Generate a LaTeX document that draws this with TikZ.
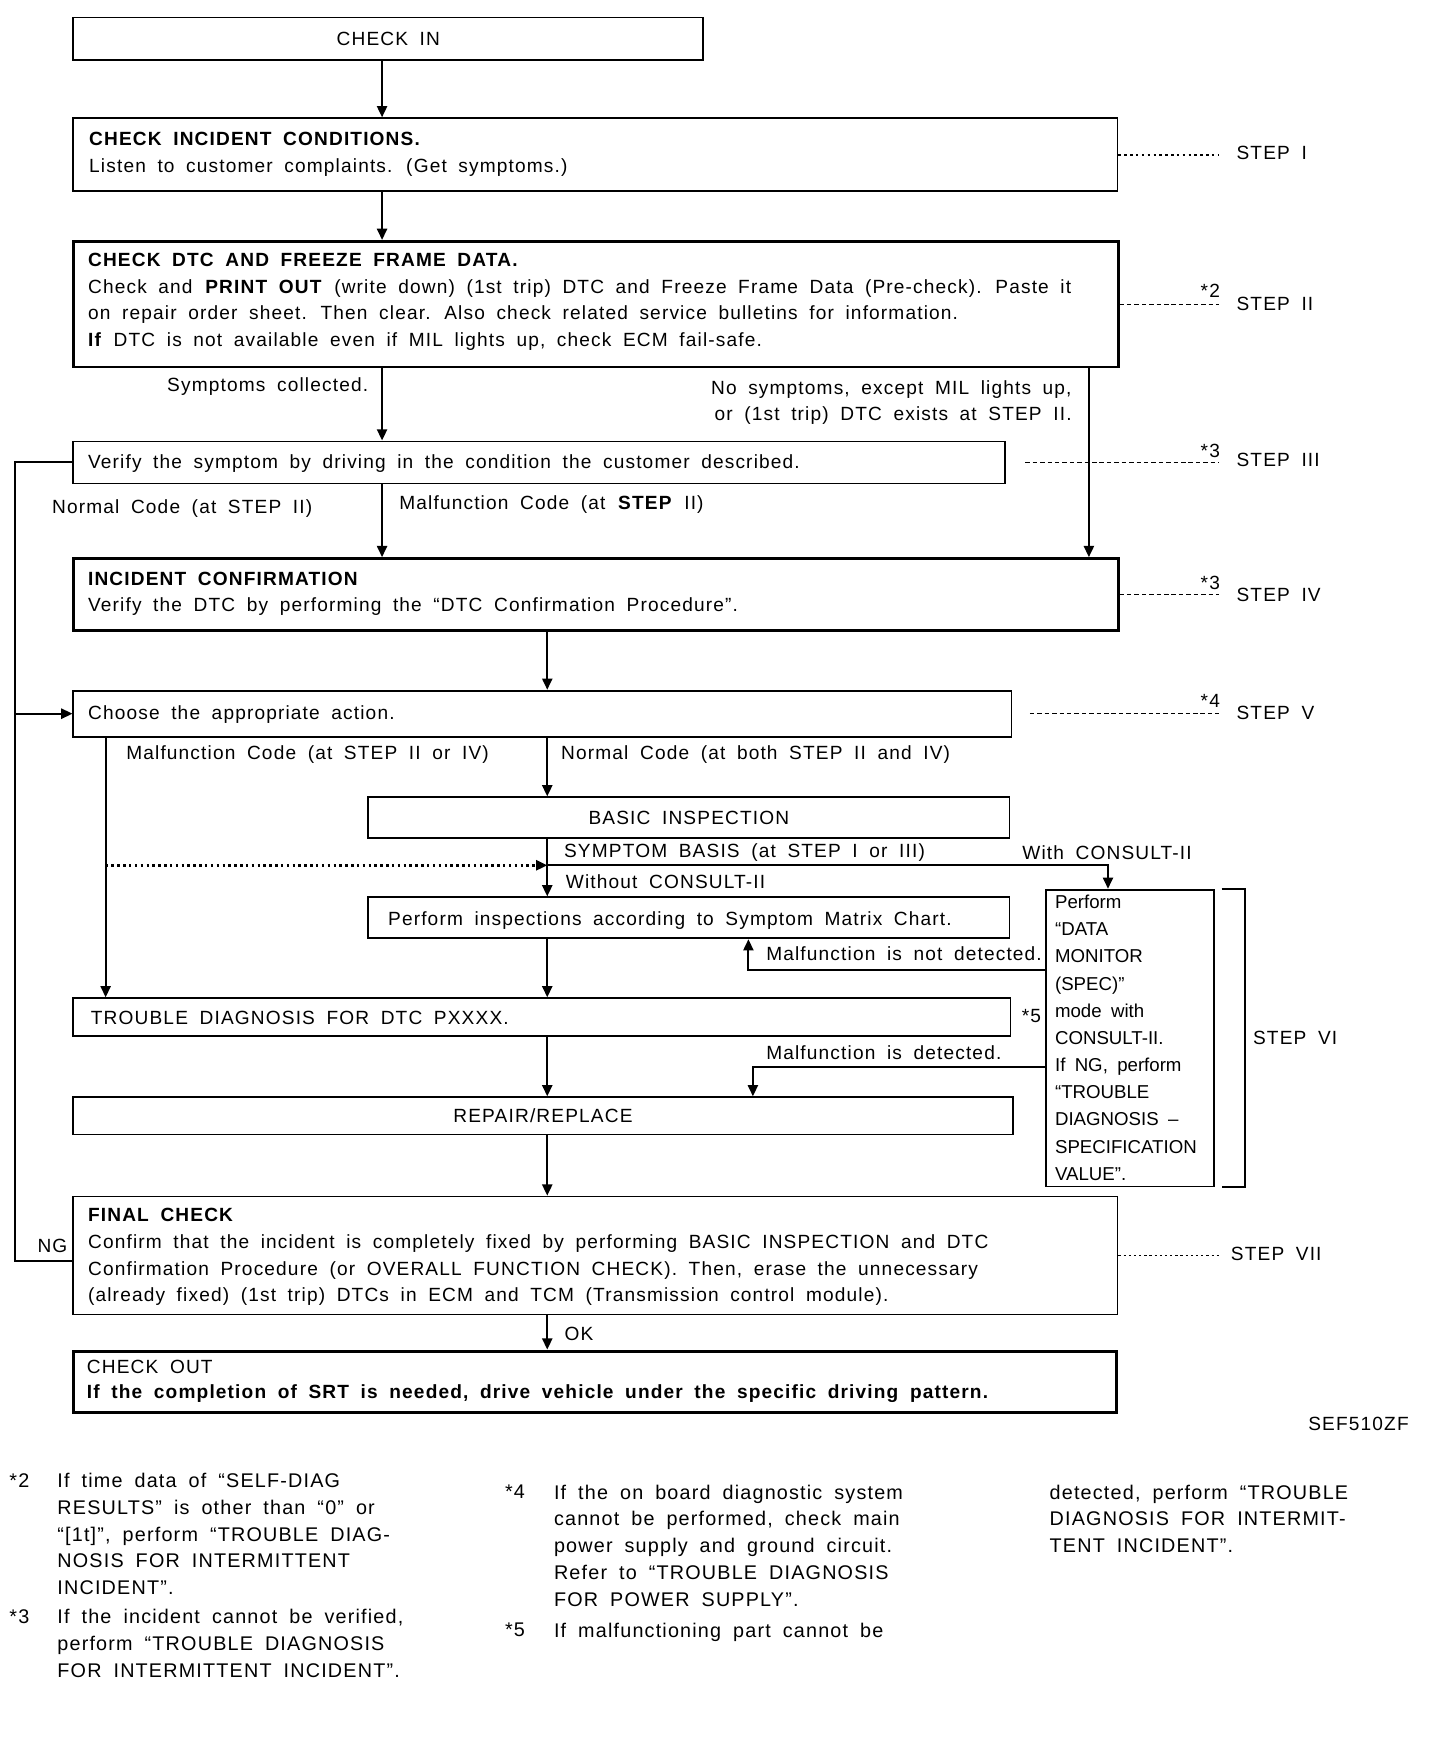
\documentclass[tikz,border=0pt]{standalone}
\usepackage{fontspec}
\setmainfont{Liberation Sans}[LetterSpace=6,WordSpace=1.8]
\newfontfamily\narrowfont{Liberation Sans}[WordSpace=1.8]
\usetikzlibrary{arrows.meta}
\begin{document}
\begin{tikzpicture}[x=0.5pt,y=-0.5pt,
  font=\fontsize{8.5pt}{12.3pt}\selectfont,
  box/.style={draw,line width=0.8pt,rectangle,inner sep=0pt,anchor=north west},
  thickbox/.style={box,line width=1.3pt},
  txt/.style={inner sep=0pt,anchor=north west,align=left},
  lbl/.style={inner sep=0pt},
  ln/.style={line width=0.9pt},
  arr/.style={ln,-{Triangle[length=5pt,width=4.5pt]}},
  dotline/.style={line width=1.1pt,dash pattern=on 1.1pt off 1.5pt},
  thindash/.style={line width=0.45pt,dash pattern=on 2pt off 1.3pt},
  meddash/.style={line width=0.7pt,dash pattern=on 2pt off 1.3pt},
  fn/.style={txt,font=\fontsize{8.8pt}{11.9pt}\selectfont},
]
\useasboundingbox (0,0) rectangle (1281,1568);
\fill[white] (0,0) rectangle (1281,1568);

% column coordinates
\coordinate (cA) at (340,0);
\coordinate (cB) at (487,0);
\coordinate (cC) at (969,0);
\coordinate (cL) at (13,0);
\coordinate (cM) at (94,0);
\coordinate (cD) at (986,0);
\coordinate (cE) at (666,0);
\coordinate (cF) at (670,0);
\coordinate (stepend) at (1085,0);

% boxes
\node[box,minimum width=280.25pt,minimum height=19pt] (checkin) at (64.5,14.8) {CHECK IN};
\node[box,minimum width=464.6pt,minimum height=32.3pt] (b1) at (64.5,104.4) {};
\node[thickbox,minimum width=464.6pt,minimum height=55.9pt] (b2) at (64.5,213.5) {};
\node[box,minimum width=414.5pt,minimum height=18.7pt] (b3) at (64.5,392) {};
\node[thickbox,minimum width=464.6pt,minimum height=31.9pt] (b4) at (64.5,495.8) {};
\node[box,minimum width=417.45pt,minimum height=20.5pt] (b5) at (64.5,613.8) {};
\node[box,minimum width=285.4pt,minimum height=18.05pt] (basic) at (326.8,708.7) {BASIC INSPECTION};
\node[box,minimum width=285.4pt,minimum height=18.25pt] (perf) at (326.8,797.7) {};
\node[box,minimum width=74.9pt,minimum height=132.05pt] (consult) at (929.7,790.9) {};
\node[box,minimum width=417pt,minimum height=16.95pt] (trouble) at (64.5,887.5) {};
\node[box,minimum width=417.9pt,minimum height=16.6pt] (repair) at (64.5,975.6) {REPAIR/REPLACE};
\node[box,minimum width=464.6pt,minimum height=52.5pt] (final) at (64.5,1064) {};
\node[thickbox,minimum width=464pt,minimum height=27.4pt] (checkout) at (64.5,1201) {};

% box texts
\node[txt] (t1) at (79,117) {\textbf{CHECK INCIDENT CONDITIONS.}\\Listen to customer complaints. (Get symptoms.)};
\node[txt,font=\fontsize{8.5pt}{11.75pt}\selectfont] (t2) at (78,225.3) {\textbf{CHECK DTC AND FREEZE FRAME DATA.}\\Check and \textbf{PRINT OUT} (write down) (1st trip) DTC and Freeze Frame Data (Pre-check). Paste it\\on repair order sheet. Then clear. Also check related service bulletins for information.\\\textbf{If} DTC is not available even if MIL lights up, check ECM fail-safe.};
\node[txt] (t3) at (78,404) {Verify the symptom by driving in the condition the customer described.};
\node[txt,font=\fontsize{8.5pt}{11.9pt}\selectfont] (t4) at (78,508.5) {\textbf{INCIDENT CONFIRMATION}\\Verify the DTC by performing the “DTC Confirmation Procedure”.};
\node[txt] (t5) at (78,627.8) {Choose the appropriate action.};
\node[txt] (t6) at (345,811) {Perform inspections according to Symptom Matrix Chart.};
\node[txt,font=\narrowfont\fontsize{8.3pt}{12.08pt}\selectfont] (t7) at (938.5,796.2) {Perform\\“DATA\\MONITOR\\(SPEC)”\\mode with\\CONSULT-II.\\If NG, perform\\“TROUBLE\\DIAGNOSIS –\\SPECIFICATION\\VALUE”.};
\node[txt] (t8) at (80.5,899) {TROUBLE DIAGNOSIS FOR DTC PXXXX.};
\node[txt,font=\fontsize{8.5pt}{11.85pt}\selectfont] (t9) at (78,1075) {\textbf{FINAL CHECK}\\Confirm that the incident is completely fixed by performing BASIC INSPECTION and DTC\\Confirmation Procedure (or OVERALL FUNCTION CHECK). Then, erase the unnecessary\\(already fixed) (1st trip) DTCs in ECM and TCM (Transmission control module).};
\node[txt,font=\fontsize{8.5pt}{11pt}\selectfont] (t10) at (77,1210) {CHECK OUT\\\textbf{If the completion of SRT is needed, drive vehicle under the specific driving pattern.}};

% connector labels
\node[lbl,anchor=base east] (l1) at (328,348.4) {Symptoms collected.};
\node[lbl,anchor=north east,align=right,font=\fontsize{8.5pt}{11.85pt}\selectfont] (l2) at (954,338) {No symptoms, except MIL lights up,\\or (1st trip) DTC exists at STEP II.};
\node[lbl,anchor=base west] (l3) at (46,456.6) {Normal Code (at STEP II)};
\node[lbl,anchor=base west] (l4) at (355,453) {Malfunction Code (at \textbf{STEP} II)};
\node[lbl,anchor=base west] (l5) at (112,676) {Malfunction Code (at STEP II or IV)};
\node[lbl,anchor=base west] (l6) at (499,676) {Normal Code (at both STEP II and IV)};
\node[lbl,anchor=base west] (l7) at (501.6,762.7) {SYMPTOM BASIS (at STEP I or III)};
\node[lbl,anchor=base west] (l8) at (909.4,764.5) {With CONSULT-II};
\node[lbl,anchor=base west] (l9) at (503.2,790.3) {Without CONSULT-II};
\node[lbl,anchor=base west] (l10) at (681.5,854.6) {Malfunction is not detected.};
\node[lbl,anchor=base west] (l11) at (681.5,943) {Malfunction is detected.};
\node[lbl,anchor=base west] (l12) at (33,1115) {NG};
\node[lbl,anchor=base west] (l13) at (502,1193) {OK};
\node[lbl,anchor=base east] (l14) at (1254,1273) {SEF510ZF};

% step labels
\node[lbl,anchor=base west] (s1) at (1100,141.7) {STEP I};
\node[lbl,anchor=base west] (s2) at (1100,276.7) {STEP II};
\node[lbl,anchor=base west] (s3) at (1100,415.2) {STEP III};
\node[lbl,anchor=base west] (s4) at (1100,535.2) {STEP IV};
\node[lbl,anchor=base west] (s5) at (1100,639.9) {STEP V};
\node[lbl,anchor=base west] (s6) at (1114.7,929.6) {STEP VI};
\node[lbl,anchor=base west] (s7) at (1095,1122) {STEP VII};
\node[lbl,anchor=base east] (m2) at (1086,265) {*2};
\node[lbl,anchor=base east] (m3) at (1086,407) {*3};
\node[lbl,anchor=base east] (m3b) at (1086,525) {*3};
\node[lbl,anchor=base east] (m4) at (1086,630) {*4};
\node[lbl,anchor=base west] (m5) at (909,909.5) {*5};

% step lines
\draw[dotline,line width=0.9pt] (b1.east) -- (b1.east -| stepend);
\draw[thindash] (b2.east) -- (b2.east -| stepend);
\coordinate (s3start) at (912.4,0);
\draw[meddash] (b3.east -| s3start) -- (b3.east -| stepend);
\draw[thindash] (b4.east) -- (b4.east -| stepend);
\coordinate (s5start) at (916.5,0);
\draw[meddash] (b5.east -| s5start) -- (b5.east -| stepend);
\draw[thindash,dash pattern=on 1pt off 1.3pt] (final.east) -- (final.east -| stepend);
\draw[ln] ([xshift=3pt]consult.north east) -- ++(10.5pt,0) |- ([xshift=3pt]consult.south east);

% connectors
\draw[arr] (checkin.south -| cA) -- (b1.north -| cA);
\draw[arr] (b1.south -| cA) -- (b2.north -| cA);
\draw[arr] (b2.south -| cA) -- (b3.north -| cA);
\draw[arr] (b2.south -| cC) -- (b4.north -| cC);
\draw[arr] (b3.south -| cA) -- (b4.north -| cA);
\draw[arr] (b4.south -| cB) -- (b5.north -| cB);
\draw[arr] (b5.south -| cM) -- (trouble.north -| cM);
\draw[arr] (b5.south -| cB) -- (basic.north -| cB);
\draw[arr] (basic.south -| cB) -- (perf.north -| cB);
\coordinate (jn) at (487,770);
\draw[arr] (jn) -| (consult.north -| cD);
\draw[arr,dotline] (jn -| cM) -- (jn);
\coordinate (nd) at (929.7,863);
\draw[arr] (nd) -| (perf.south -| cE);
\coordinate (dd) at (929.7,949.4);
\draw[arr] (dd) -| (repair.north -| cF);
\draw[arr] (perf.south -| cB) -- (trouble.north -| cB);
\draw[arr] (trouble.south -| cB) -- (repair.north -| cB);
\draw[arr] (repair.south -| cB) -- (final.north -| cB);
\draw[arr] (final.south -| cB) -- (checkout.north -| cB);
\draw[ln] ([yshift=-2.25pt]final.west) -- ([yshift=-2.25pt]final.west -| cL) -- (b3.west -| cL) -- (b3.west);
\draw[arr] (b5.west -| cL) -- (b5.west);

% footnotes
\node[fn] (f2a) at (8,1310.6) {*2};
\node[fn] (f2) at (50.7,1310.6) {If time data of “SELF-DIAG\\RESULTS” is other than “0” or\\“[1t]”, perform “TROUBLE DIAG-\\NOSIS FOR INTERMITTENT\\INCIDENT”.};
\node[fn] (f3a) at (8,1432) {*3};
\node[fn] (f3) at (50.7,1432) {If the incident cannot be verified,\\perform “TROUBLE DIAGNOSIS\\FOR INTERMITTENT INCIDENT”.};
\node[fn] (f4a) at (449,1321) {*4};
\node[fn] (f4) at (492.6,1321) {If the on board diagnostic system\\cannot be performed, check main\\power supply and ground circuit.\\Refer to “TROUBLE DIAGNOSIS\\FOR POWER SUPPLY”.};
\node[fn] (f5a) at (449,1444) {*5};
\node[fn] (f5) at (492.6,1444) {If malfunctioning part cannot be};
\node[fn] (f6) at (933.7,1321) {detected, perform “TROUBLE\\DIAGNOSIS FOR INTERMIT-\\TENT INCIDENT”.};
\end{tikzpicture}
\end{document}
